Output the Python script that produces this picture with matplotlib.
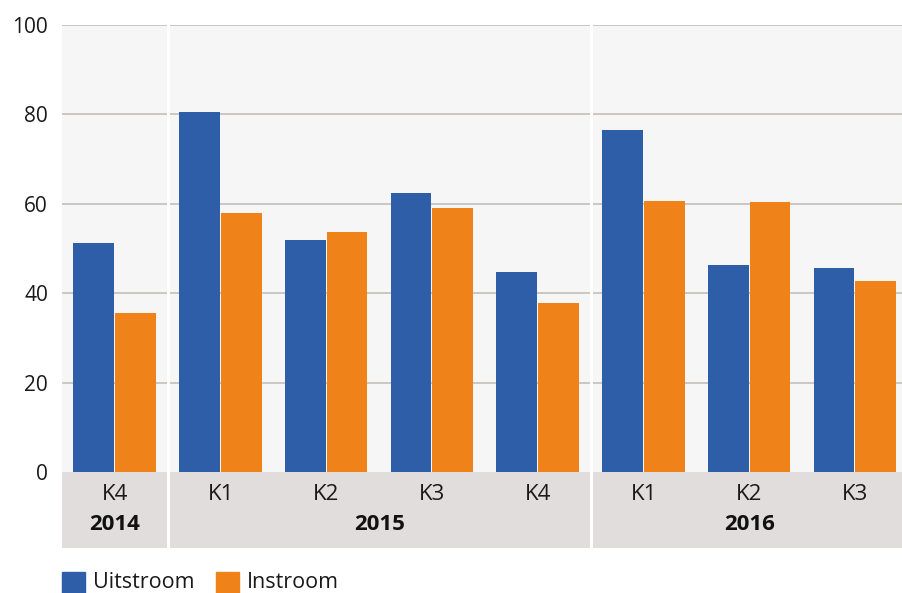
"""
Uitstroom / instroom per kwartaal, 2014 K4 - 2016 K3
"""

import numpy as np
import matplotlib.pyplot as plt
from matplotlib.patches import Rectangle

plt.rcParams['font.family'] = ['Open Sans', 'DejaVu Sans']

# data
quarters = ["K4", "K1", "K2", "K3", "K4", "K1", "K2", "K3"]
years = ["2014", "2015", "2016"]
year_groups = [(0, 0), (1, 4), (5, 7)]   # first/last quarter index per year
uitstroom = [51.2, 80.5, 51.9, 62.4, 44.7, 76.5, 46.3, 45.6]
instroom = [35.6, 57.9, 53.7, 59.1, 37.8, 60.6, 60.4, 42.7]
yticks = [0, 20, 40, 60, 80, 100]

BLUE = '#2f5ea8'
ORANGE = '#ef8219'
BAND = '#e0dddc'
PLOT_BG = '#f6f6f6'
GRID = '#c8c1bf'

W, H = 902, 593
fig = plt.figure(figsize=(W / 100, H / 100), dpi=100)

# axes spans plot area plus the category band; the right end runs past the figure edge
left, right, top, bottom = 62, 908, 25, 548
ax = fig.add_axes([left / W, (H - bottom) / H, (right - left) / W, (bottom - top) / H])

band_depth = (548 - 472) / ((472 - 25) / 100.0)
ax.set_xlim(-0.5, len(quarters) - 0.5)
ax.set_ylim(-band_depth, 100)
ax.set_facecolor(PLOT_BG)

# category band
ax.axhspan(-band_depth, 0, color=BAND, zorder=0.5, lw=0)

# gridlines
for v in yticks[1:]:
    ax.axhline(v, color=GRID, lw=1.3, zorder=1)

x = np.arange(len(quarters))
bw = 0.385
ax.bar(x - 0.2, uitstroom, width=bw, color=BLUE, zorder=3, label='Uitstroom')
ax.bar(x + 0.195, instroom, width=bw, color=ORANGE, zorder=3, label='Instroom')

# white separators between years
for first, last in year_groups[1:]:
    ax.axvline(first - 0.5, color='white', lw=2.2, zorder=2)

# labels in the band
for i, q in enumerate(quarters):
    ax.text(i, -5.1, q, ha='center', va='center', fontsize=16, color='#1a1a1a')
for yr, (first, last) in zip(years, year_groups):
    ax.text((first + last) / 2, -11.7, yr, ha='center', va='center',
            fontsize=16, fontweight='bold', color='#111111')

ax.set_yticks(yticks)
ax.set_yticklabels([str(v) for v in yticks], fontsize=15, color='#1a1a1a')
ax.tick_params(axis='y', length=0, pad=10)
ax.set_xticks([])
for s in ax.spines.values():
    s.set_visible(False)

# legend drawn by hand at the bottom
sq = 23
legend_items = [('Uitstroom', BLUE, 62), ('Instroom', ORANGE, 216)]
for name, col, x0 in legend_items:
    fig.patches.append(Rectangle((x0 / W, (H - 595) / H), sq / W, sq / H,
                                 transform=fig.transFigure, color=col))
    fig.text((x0 + sq + 8) / W, (H - 583) / H, name, ha='left', va='center',
             fontsize=15.5, color='#1a1a1a')

plt.savefig('out.png', dpi=100)
